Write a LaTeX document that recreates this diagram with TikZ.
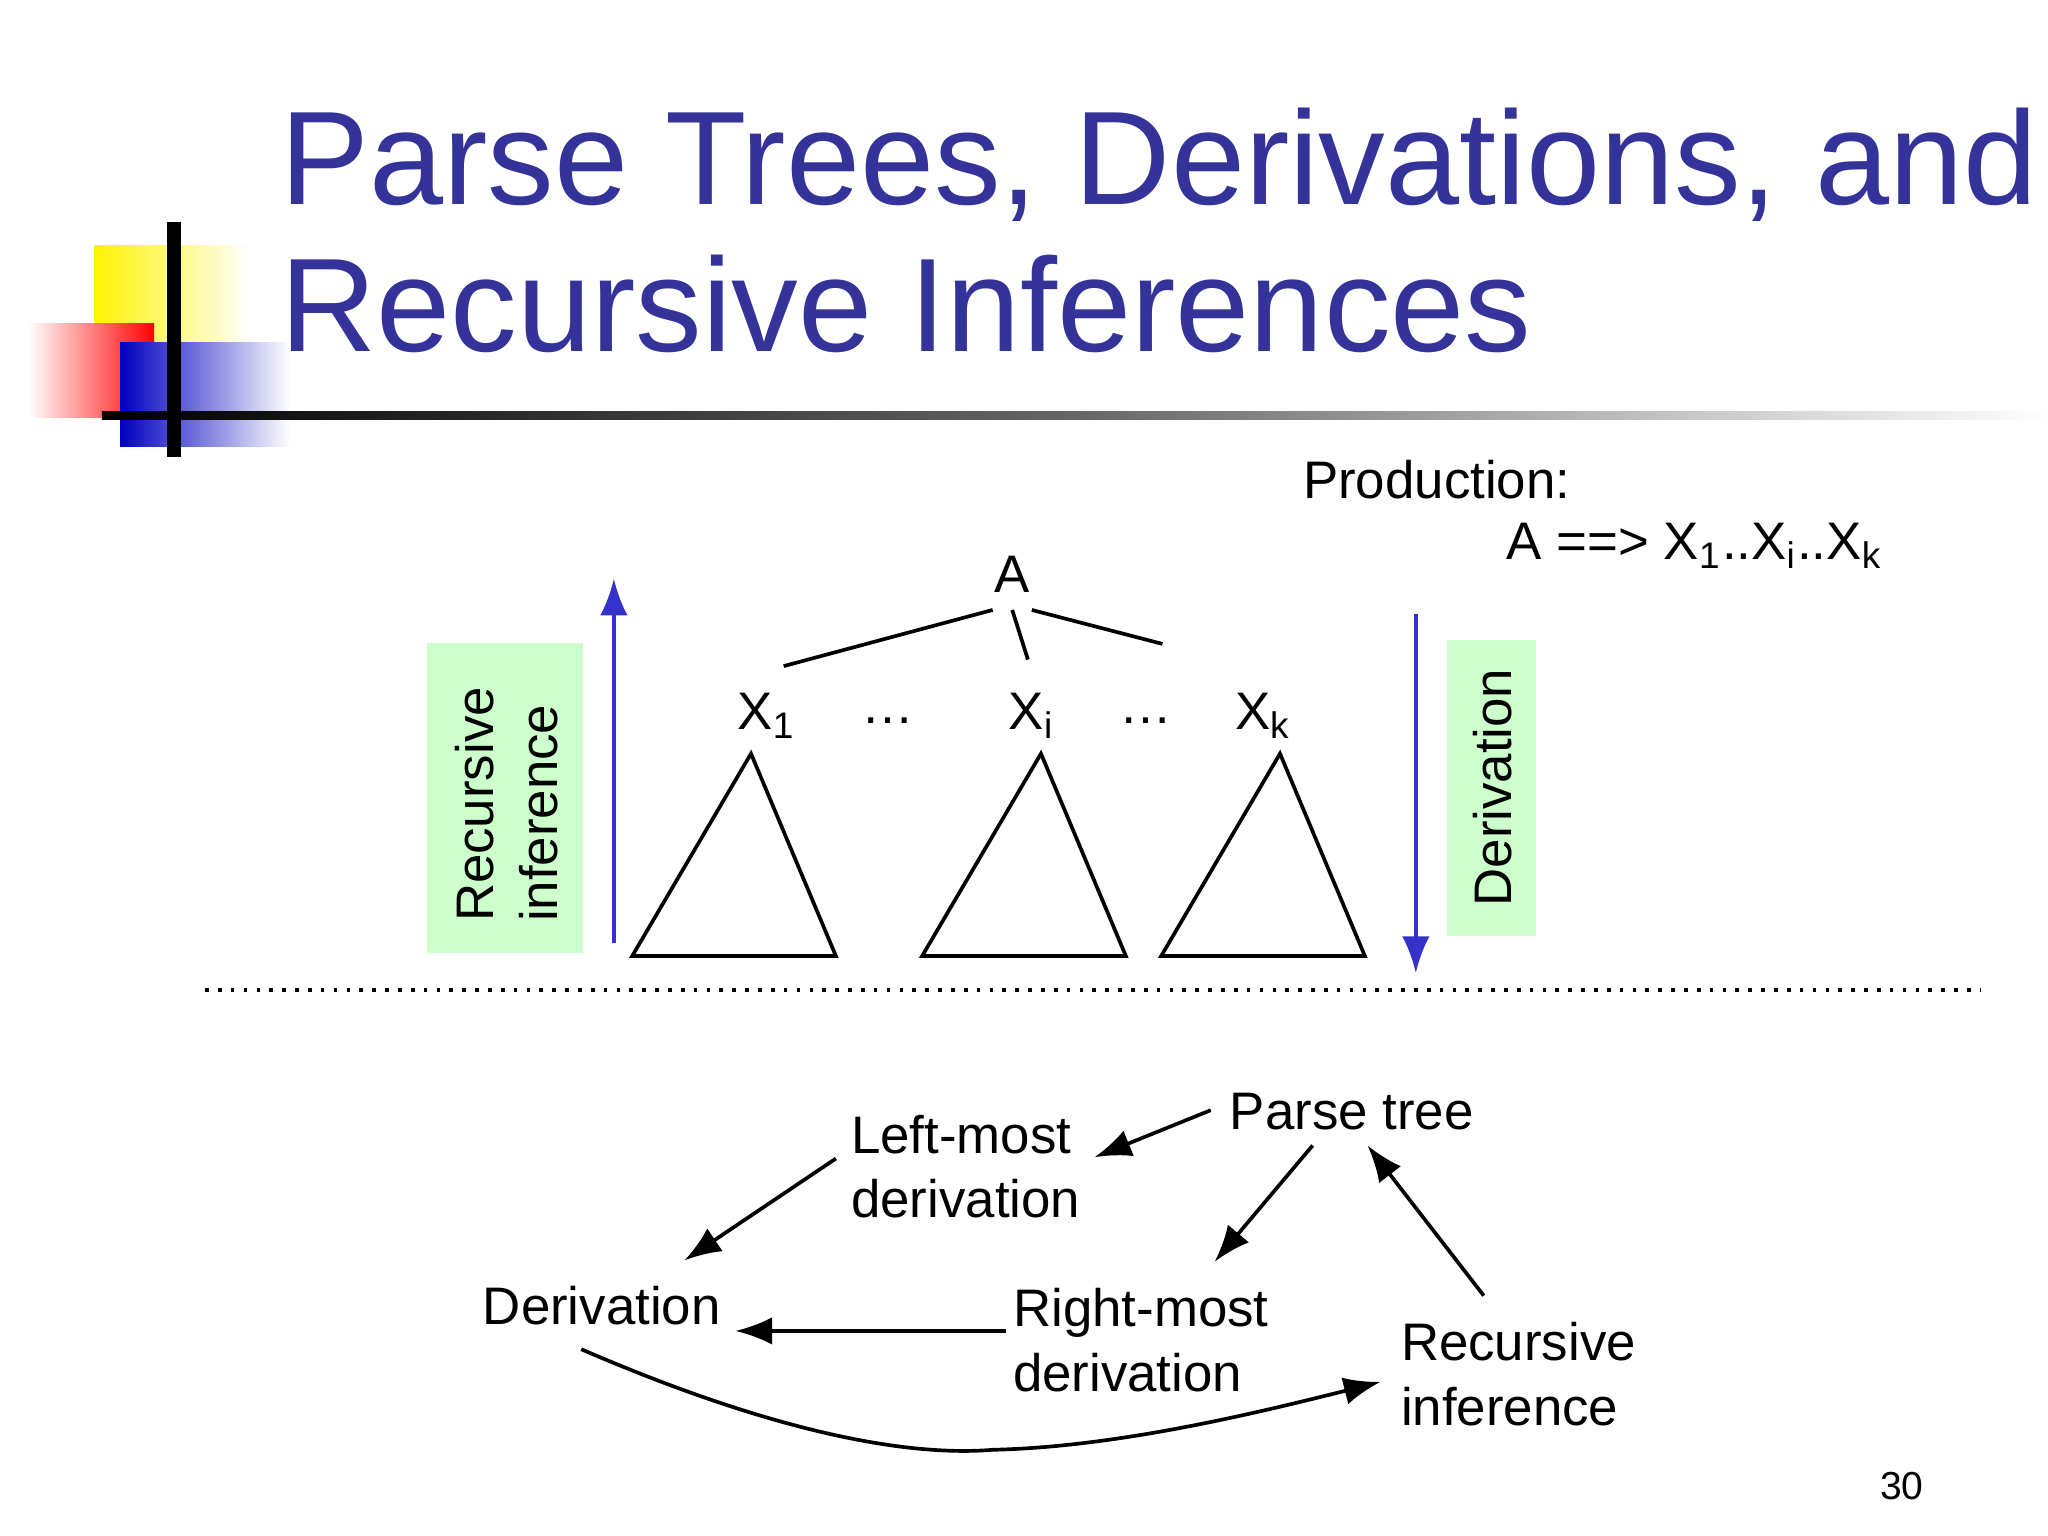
\documentclass[tikz,border=0pt]{standalone}
\usepackage{fontspec}
\setmainfont{Liberation Sans}
\usetikzlibrary{arrows.meta}
\definecolor{titleblue}{RGB}{51,51,153}
\definecolor{lgreen}{RGB}{204,255,204}
\definecolor{arrblue}{RGB}{51,51,204}
\tikzset{
  lbl/.style={inner sep=0pt,font=\fontsize{11.5}{14}\selectfont,align=left},
  arr/.style={-{Latex[length=8pt,width=6pt]},line width=0.8pt},
  tri/.style={draw,line width=0.8pt},
  gbox/.style={fill=lgreen},
}
\begin{document}
\begin{tikzpicture}[x=0.01cm,y=-0.01cm]
\useasboundingbox (0,0) rectangle (1568,1176);
\fill[white] (0,0) rectangle (1568,1176);
% logo
\shade[left color=yellow!90!orange,right color=white] (72,188) rectangle (192,300);
\shade[left color=white,right color=red] (22,248) rectangle (118,320);
\shade[left color=blue!75!black,right color=white] (92,262) rectangle (222,342);
\shade[left color=black,right color=white,middle color=black!60] (78,315) rectangle (1568,321);
\draw[line width=3pt] (133,170) -- (133,350);
% title
\node[anchor=north west,inner sep=0pt,align=left,text=titleblue,font=\fontsize{29}{32}\selectfont] (title) at (214,82) {Parse Trees, Derivations, and\\Recursive Inferences};
% production
\node[lbl,anchor=west] (prod) at (997,367) {Production:};
\node[lbl,anchor=west] (rule) at (1153,418) {A ==> X\textsubscript{1}..X\textsubscript{i}..X\textsubscript{k}};
% tree
\node[lbl] (A) at (775,440) {A};
\node[lbl] (x1) at (587,548) {X\textsubscript{1}};
\node[lbl] (d1) at (680,552) {\dots};
\node[lbl] (xi) at (790,548) {X\textsubscript{i}};
\node[lbl] (d2) at (877,552) {\dots};
\node[lbl] (xk) at (967,548) {X\textsubscript{k}};
\draw[line width=0.8pt] (600,510) -- (760,467);
\draw[line width=0.8pt] (775,467) -- (787,505);
\draw[line width=0.8pt] (790,467) -- (890,493);
\draw[tri] (575,577) -- (484,732) -- (640,732) -- cycle;
\draw[tri] (797,577) -- (706,732) -- (862,732) -- cycle;
\draw[tri] (980,577) -- (889,732) -- (1045,732) -- cycle;
\coordinate (u1) at (470,722); \coordinate (u2) at (470,443);
\draw[arr,arrblue,line width=0.8pt] (u1) -- (u2);
\coordinate (v1) at (1084,470); \coordinate (v2) at (1084,745);
\draw[arr,arrblue,line width=0.8pt] (v1) -- (v2);
\fill[gbox] (327,492) rectangle (446,730);
\node[lbl,rotate=90,align=left] (ri) at (388,616) {Recursive\\inference};
\fill[gbox] (1108,490) rectangle (1176,717);
\node[lbl,rotate=90] (dv) at (1143,603) {Derivation};
\draw[dotted,line width=0.8pt] (157,758) -- (1516,758);
% bottom
\node[lbl,anchor=west] (pt) at (941,851) {Parse tree};
\node[lbl,anchor=west] (lm) at (651,893) {Left-most\\derivation};
\node[lbl,anchor=west] (der) at (369,1000) {Derivation};
\node[lbl,anchor=west] (rm) at (775,1026) {Right-most\\derivation};
\node[lbl,anchor=west] (rec) at (1072,1052) {Recursive\\inference};
\node[inner sep=0pt,font=\fontsize{8.5}{10}\selectfont] (pg) at (1456,1138) {30};
\coordinate (a1) at (927,850); \coordinate (a2) at (838,886);
\draw[arr] (a1) -- (a2);
\coordinate (b1) at (640,887); \coordinate (b2) at (524,965);
\draw[arr] (b1) -- (b2);
\coordinate (c1) at (1005,877); \coordinate (c2) at (930,966);
\draw[arr] (c1) -- (c2);
\coordinate (e1) at (1136,992); \coordinate (e2) at (1047,877);
\draw[arr] (e1) -- (e2);
\coordinate (f1) at (770,1019); \coordinate (f2) at (563,1019);
\draw[arr] (f1) -- (f2);
\coordinate (g1) at (445,1033); \coordinate (g2) at (1057,1058);
\draw[arr] (g1) .. controls (600,1100) and (700,1115) .. (760,1110) .. controls (850,1108) and (950,1085) .. (g2);
\end{tikzpicture}
\end{document}
